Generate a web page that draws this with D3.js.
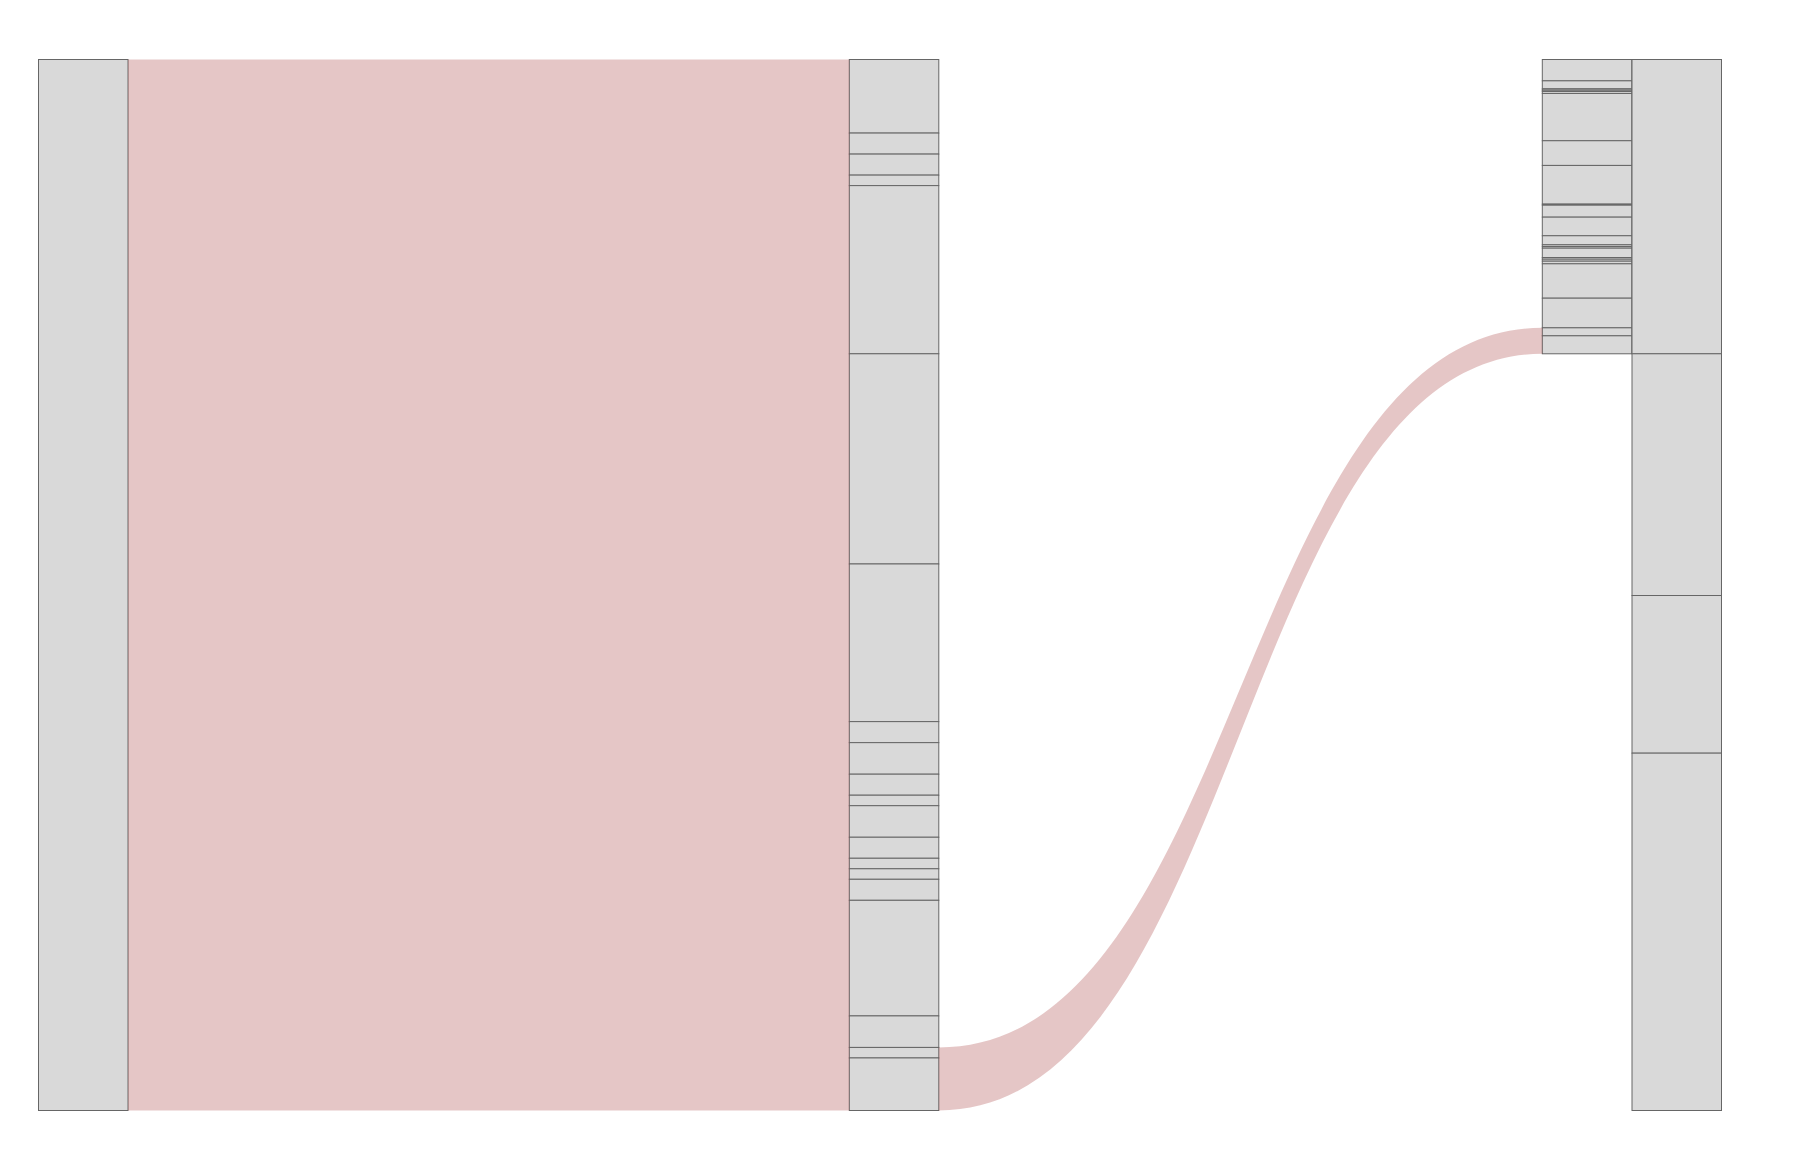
<!DOCTYPE html>
<html>
<head>
<meta charset="utf-8">
<script src="https://cdn.jsdelivr.net/npm/d3@7"></script>
<style>
  html, body { margin: 0; padding: 0; background: #fff; }
  svg { display: block; }
</style>
</head>
<body>
<svg id="chart" width="1810" height="1168"></svg>
<script>
// ---- data ----
const sourceValues = [100];
const middleValues = [7, 2, 2, 1, 16, 20, 15, 2, 3, 2, 1, 3, 2, 1, 1, 2, 11, 3, 1, 5];
const thirdValues = [2.03, 0.76, 0.13, 0.12, 0.19, 4.50, 2.35, 3.68, 0.10, 1.14, 1.77,
                     0.86, 0.16, 0.16, 0.89, 0.16, 0.19, 0.25, 3.27, 2.82, 0.76, 1.71];
const rightValues = [28, 23, 15, 34];
// links: source column, first/last source node, target column, first/last target node
const links = [
  {s: 0, s0: 0, s1: 0, t: 1, t0: 0, t1: 19},
  {s: 1, s0: 18, s1: 19, t: 2, t0: 20, t1: 21}
];

// ---- layout ----
const columns = [sourceValues, middleValues, thirdValues, rightValues];
const colX = [38.5, 849.3, 1542.3, 1632];
const nodeW = 89.5;
const y = d3.scaleLinear().domain([0, 100]).range([59.5, 1110.5]);

const nodes = columns.map((vals, ci) => {
  let acc = 0;
  return vals.map(v => {
    const n = {col: ci, y0: acc, y1: acc + v};
    acc += v;
    return n;
  });
});

const svg = d3.select("#chart");

// nodes
const g = svg.append("g");
nodes.forEach((colNodes, ci) => {
  g.selectAll(null)
    .data(colNodes)
    .join("rect")
    .attr("x", colX[ci])
    .attr("y", d => y(d.y0))
    .attr("width", nodeW)
    .attr("height", d => y(d.y1) - y(d.y0))
    .attr("fill", "#d9d9d9")
    .attr("stroke", "#666")
    .attr("stroke-width", 1);
});

// links
function linkPath(l) {
  const x0 = colX[l.s] + nodeW, x1 = colX[l.t];
  const sa = y(nodes[l.s][l.s0].y0), sb = y(nodes[l.s][l.s1].y1);
  const ta = y(nodes[l.t][l.t0].y0), tb = y(nodes[l.t][l.t1].y1);
  const xm = (x0 + x1) / 2;
  const p = d3.path();
  p.moveTo(x0, sa);
  p.bezierCurveTo(xm, sa, xm, ta, x1, ta);
  p.lineTo(x1, tb);
  p.bezierCurveTo(xm, tb, xm, sb, x0, sb);
  p.closePath();
  return p.toString();
}
svg.append("g")
  .selectAll("path")
  .data(links)
  .join("path")
  .attr("d", linkPath)
  .attr("fill", "rgba(160,50,50,0.28)")
  .attr("stroke", "none");
</script>
</body>
</html>
